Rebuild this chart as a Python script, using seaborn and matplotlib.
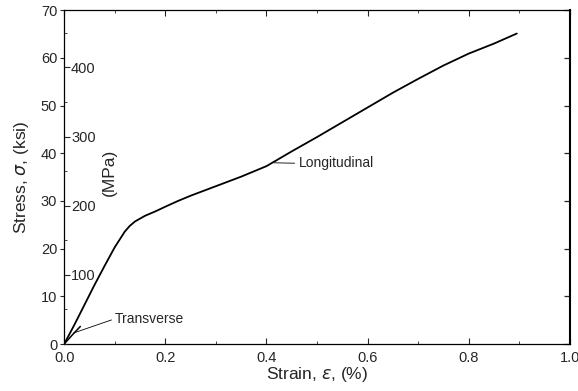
import numpy as np
import pandas as pd
import matplotlib
matplotlib.use("Agg")
import matplotlib.pyplot as plt
import seaborn as sns
from matplotlib.ticker import MultipleLocator, FixedLocator

# Longitudinal stress-strain curve (strain %, stress ksi)
long_strain = [0.0, 0.02, 0.04, 0.06, 0.08, 0.10, 0.12, 0.13, 0.14, 0.15, 0.16,
               0.18, 0.20, 0.225, 0.25, 0.30, 0.35, 0.40, 0.45, 0.50, 0.55, 0.60,
               0.65, 0.70, 0.75, 0.80, 0.85, 0.895]
long_stress = [0.0, 4.0, 8.2, 12.4, 16.4, 20.3, 23.6, 24.8, 25.7, 26.3, 26.9,
               27.8, 28.8, 30.0, 31.1, 33.1, 35.1, 37.3, 40.4, 43.4, 46.5, 49.6,
               52.7, 55.6, 58.4, 60.9, 63.0, 65.1]

# Transverse curve (short, fails early)
trans_strain = [0.0, 0.016, 0.032]
trans_stress = [0.0, 1.9, 3.7]

ksi_ticks = [0, 10, 20, 30, 40, 50, 60, 70]
mpa_ticks = [100, 200, 300, 400]
strain_ticks = [0.0, 0.2, 0.4, 0.6, 0.8, 1.0]
KSI_TO_MPA = 6.895

sns.set_style("ticks")
plt.rcParams['font.family'] = ['Liberation Sans', 'DejaVu Sans']
plt.rcParams['mathtext.fontset'] = 'dejavusans'

df_long = pd.DataFrame({"strain": long_strain, "stress": long_stress})
df_trans = pd.DataFrame({"strain": trans_strain, "stress": trans_stress})

fig, ax = plt.subplots(figsize=(5.78, 3.91), dpi=100)
fig.subplots_adjust(left=0.111, right=0.986, bottom=0.12, top=0.974)

sns.lineplot(data=df_long, x="strain", y="stress", ax=ax, color="black", lw=1.3, sort=False)
sns.lineplot(data=df_trans, x="strain", y="stress", ax=ax, color="black", lw=1.1, sort=False)

ax.set_xlim(0, 1.0)
ax.set_ylim(0, 70)

# MPa scale drawn on the left spine, inside the plot
mpa = ax.twinx()
mpa.set_ylim(0, 70 * KSI_TO_MPA)
for s in mpa.spines.values():
    s.set_visible(False)
mpa.spines['right'].set_position(('axes', 0))
mpa.set_yticks(mpa_ticks)
mpa.yaxis.set_minor_locator(MultipleLocator(50))
mpa.tick_params(axis='y', which='both', direction='out', labelsize=10.5, pad=1)
mpa.tick_params(axis='y', which='major', length=4)
mpa.tick_params(axis='y', which='minor', length=2.5)
mpa.set_ylabel("(MPa)", fontsize=12.5, rotation=90)
mpa.yaxis.set_label_coords(0.074, 0.515)

ax.set_xticks(strain_ticks)
ax.set_xticklabels([f"{t:.1f}" for t in strain_ticks])
ax.xaxis.set_minor_locator(MultipleLocator(0.1))
ax.tick_params(axis='x', which='both', direction='in', top=True, labelsize=10.5, pad=5)
ax.tick_params(axis='x', which='major', length=4)
ax.tick_params(axis='x', which='minor', length=2)

# ksi: labelled ticks pointing out on the left, plain ticks pointing in on the right
ax.set_yticks(ksi_ticks)
ax.yaxis.set_minor_locator(FixedLocator(ksi_ticks))
ax.yaxis.remove_overlapping_locs = False
ax.tick_params(axis='y', which='major', direction='out', length=3, labelsize=10.5,
               pad=2, left=True, right=False)
ax.tick_params(axis='y', which='minor', direction='in', length=4, width=0.9,
               left=False, right=True, labelleft=False, labelright=False)
for s in ax.spines.values():
    s.set_linewidth(0.9)
    s.set_color("black")
ax.spines['right'].set_linewidth(1.5)

ax.set_xlabel(r"Strain, $\epsilon$, (%)", fontsize=12.5)
ax.xaxis.set_label_coords(0.5, -0.062)
ax.set_ylabel(r"Stress, $\sigma$, (ksi)", fontsize=12.5)
ax.yaxis.set_label_coords(-0.066, 0.5)

ax.annotate("Transverse", xy=(0.018, 2.3), xytext=(0.1, 5.3), fontsize=10,
            ha='left', va='center',
            arrowprops=dict(arrowstyle='-', lw=0.6, color='black', relpos=(0, 0.5),
                            shrinkA=0, shrinkB=0))
ax.annotate("Longitudinal", xy=(0.415, 38.0), xytext=(0.465, 37.9), fontsize=10,
            ha='left', va='center',
            arrowprops=dict(arrowstyle='-', lw=0.6, color='black', relpos=(0, 0.5),
                            shrinkA=1, shrinkB=0))

fig.savefig("out.png", dpi=100)
